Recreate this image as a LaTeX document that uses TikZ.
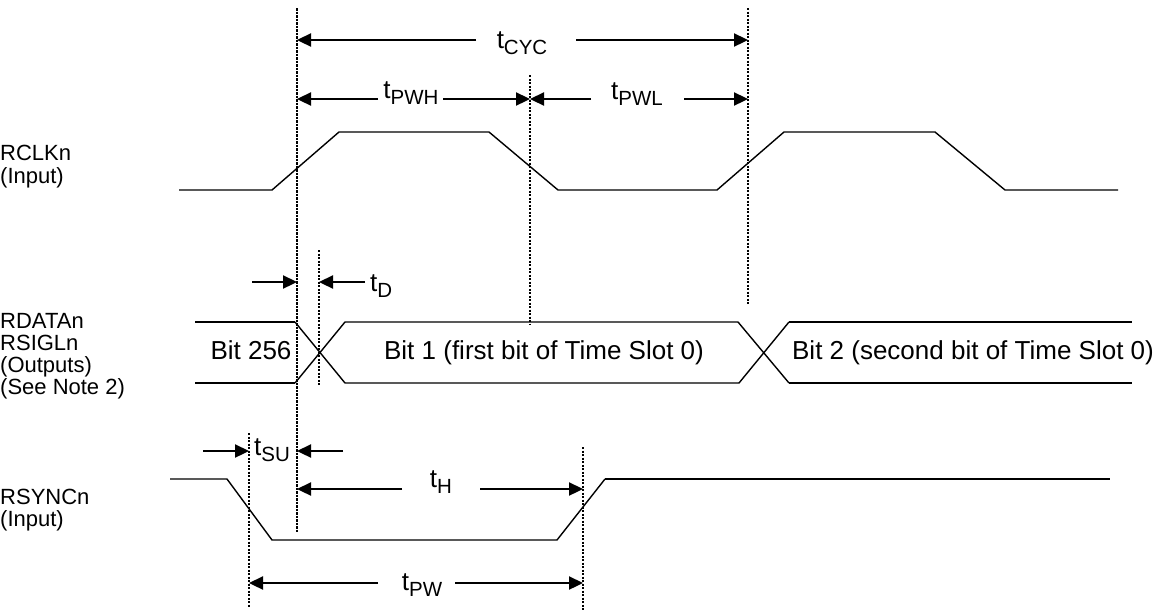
\documentclass[tikz,border=0pt]{standalone}
\usepackage{fontspec}
\setmainfont{Liberation Sans}
\usetikzlibrary{arrows.meta}
\newcommand\tlab[1]{t\raisebox{-6pt}{\fontsize{20.5}{20.5}\selectfont #1}}
\begin{document}
\begin{tikzpicture}[x=1pt,y=-1pt,
  wave/.style={line width=1.4pt, line join=miter},
  wavethick/.style={line width=2.6pt},
  guide/.style={line width=1.4pt, dash pattern=on 2pt off 1.5pt},
  guidethick/.style={line width=2.6pt, dash pattern=on 2.5pt off 1pt},
  dim/.style={line width=2.3pt, -{Triangle[length=14pt,width=13pt]}},
  lbl/.style={font=\fontsize{22}{22}\selectfont, anchor=base west, inner sep=0pt},
  tl/.style={font=\fontsize{26}{26}\selectfont, anchor=base, inner sep=0pt},
  bit/.style={font=\fontsize{26}{26}\selectfont, anchor=base, inner sep=0pt}]
\useasboundingbox (0,0) rectangle (1167,611);

% signal names
\node[lbl] (l1) at (0,160) {RCLKn};
\node[lbl] (l2) at (0,183) {(Input)};
\node[lbl] (l3) at (0,328) {RDATAn};
\node[lbl] (l4) at (0,350) {RSIGLn};
\node[lbl] (l5) at (0,372) {(Outputs)};
\node[lbl] (l6) at (0,394) {(See Note 2)};
\node[lbl] (l7) at (0,504) {RSYNCn};
\node[lbl] (l8) at (0,526) {(Input)};

% guide lines
\coordinate (gA1) at (297,8);   \coordinate (gA2) at (297,533);
\coordinate (gB1) at (530,75);  \coordinate (gB2) at (530,325);
\coordinate (gC1) at (748,8);   \coordinate (gC2) at (748,305);
\coordinate (gD1) at (319,250); \coordinate (gD2) at (319,385);
\coordinate (gS1) at (249,433); \coordinate (gS2) at (249,608);
\coordinate (gE1) at (583,447); \coordinate (gE2) at (583,611);
\draw[guidethick] (gA1) -- (gA2);
\draw[guide] (gB1) -- (gB2);
\draw[guide] (gC1) -- (gC2);
\draw[guide] (gD1) -- (gD2);
\draw[guide] (gS1) -- (gS2);
\draw[guide] (gE1) -- (gE2);

% RCLK waveform
\draw[wave] (179,190) -- (272,190) -- (339,132) -- (489,132) -- (558,190)
  -- (717,190) -- (784,132) -- (935,132) -- (1005,190) -- (1118,190);

% RDATA / RSIGL waveform
\draw[wavethick] (195,322) -- (295,322);
\draw[wavethick] (195,383) -- (295,383);
\draw[wave] (295,322) -- (345,383) -- (739,383) -- (789,322);
\draw[wave] (295,383) -- (345,322) -- (738,322) -- (789,383);
\draw[wavethick] (789,322) -- (1132,322);
\draw[wavethick] (789,383) -- (1132,383);
\node[bit] (b0) at (251,359) {Bit 256};
\node[bit] (b1) at (544,359) {Bit 1 (first bit of Time Slot 0)};
\node[bit] (b2) at (973,359) {Bit 2 (second bit of Time Slot 0)};

% RSYNC waveform
\draw[wave] (170,479) -- (227,479) -- (272,540) -- (557,540) -- (605,479);
\draw[wavethick] (605,479) -- (1110,479);

% tCYC
\node[tl] (tcyc) at (522,48) {\tlab{CYC}};
\coordinate (cA) at (476,40); \coordinate (cB) at (576,40);
\draw[dim] (cA) -- (gA1 |- cA);
\draw[dim] (cB) -- (gC1 |- cB);
% tPWH
\node[tl] (tpwh) at (411,98) {\tlab{PWH}};
\coordinate (hA) at (378,99); \coordinate (hB) at (443,99);
\draw[dim] (hA) -- (gA1 |- hA);
\draw[dim] (hB) -- (gB1 |- hB);
% tPWL
\node[tl] (tpwl) at (637,99) {\tlab{PWL}};
\coordinate (wA) at (591,99); \coordinate (wB) at (684,99);
\draw[dim] (wA) -- (gB1 |- wA);
\draw[dim] (wB) -- (gC1 |- wB);
% tD
\node[tl, anchor=base west] (td) at (370,291) {\tlab{D}};
\coordinate (dA) at (252,282); \coordinate (dB) at (365,282);
\draw[dim] (dA) -- (gA1 |- dA);
\draw[dim] (dB) -- (gD1 |- dB);
% tSU
\node[tl] (tsu) at (272,455) {\tlab{SU}};
\coordinate (sA) at (203,451); \coordinate (sB) at (343,451);
\draw[dim] (sA) -- (gS1 |- sA);
\draw[dim] (sB) -- (gA1 |- sB);
% tH
\node[tl] (th) at (441,487) {\tlab{H}};
\coordinate (tA) at (402,489); \coordinate (tB) at (480,489);
\draw[dim] (tA) -- (gA1 |- tA);
\draw[dim] (tB) -- (gE1 |- tB);
% tPW
\node[tl] (tpw) at (422,590) {\tlab{PW}};
\coordinate (pA) at (378,583); \coordinate (pB) at (455,583);
\draw[dim] (pA) -- (gS1 |- pA);
\draw[dim] (pB) -- (gE1 |- pB);
\end{tikzpicture}
\end{document}
